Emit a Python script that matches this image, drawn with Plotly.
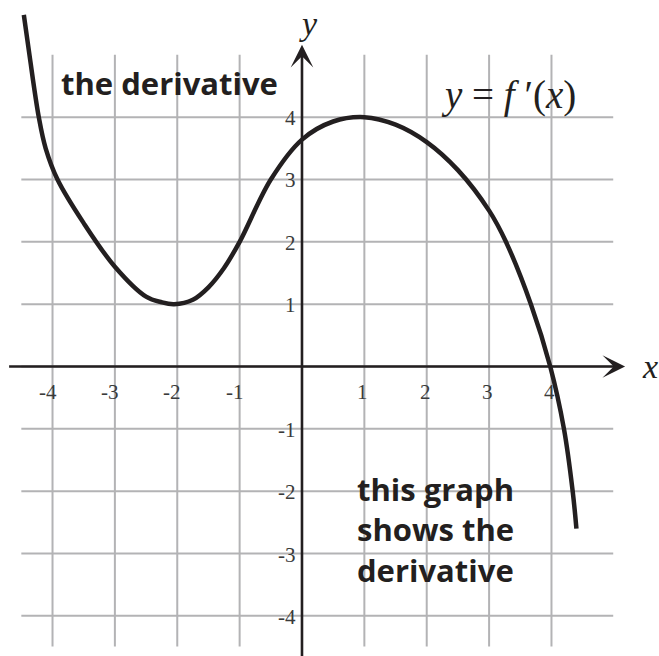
import plotly.graph_objects as go

# curve (data units)
curve_x = [-4.46, -4.37, -4.22, -4.11, -3.92, -3.5, -3.0, -2.5, -2.25, -2.05,
           -1.75, -1.5, -1.25, -1.0, -0.5, 0.0, 0.5, 1.0, 1.5, 2.0, 2.5, 3.0, 3.27,
           3.67, 3.98, 4.2, 4.34, 4.40]
curve_y = [5.64, 5.0, 4.0, 3.5, 3.0, 2.3, 1.6, 1.12, 1.03, 1.0,
           1.07, 1.27, 1.58, 2.0, 3.0, 3.64, 3.93, 4.0, 3.88, 3.6, 3.15, 2.5, 2.0,
           1.0, 0.0, -1.0, -2.0, -2.6]

x_ticks = [-4, -3, -2, -1, 1, 2, 3, 4]
y_ticks = [-4, -3, -2, -1, 1, 2, 3, 4]
grid_vals = [-4, -3, -2, -1, 0, 1, 2, 3, 4]

INK = "#231f20"
GRID = "#b3b3b5"
SERIF = "Liberation Serif"
BOLD = "Open Sans"

fig = go.Figure()

# grid as shapes, limited to the drawn square
shapes = []
for v in grid_vals:
    shapes.append(dict(type="line", x0=v, x1=v, y0=-4.49, y1=5.0,
                       line=dict(color=GRID, width=2), layer="below"))
    shapes.append(dict(type="line", x0=-4.5, x1=4.99, y0=v, y1=v,
                       line=dict(color=GRID, width=2), layer="below"))

fig.add_trace(go.Scatter(x=curve_x, y=curve_y, mode="lines",
                         line=dict(color=INK, width=4.5, shape="spline", smoothing=1),
                         hoverinfo="skip", showlegend=False))

ann = []
# axes with arrow heads
ann.append(dict(x=5.18, y=0, ax=-4.72, ay=0, xref="x", yref="y", axref="x", ayref="y",
                text="", showarrow=True, arrowhead=3, arrowsize=1.45, arrowwidth=2.6,
                arrowcolor=INK))
ann.append(dict(x=0, y=5.16, ax=0, ay=-4.8, xref="x", yref="y", axref="x", ayref="y",
                text="", showarrow=True, arrowhead=3, arrowsize=1.45, arrowwidth=2.6,
                arrowcolor=INK))

for t in x_ticks:
    ann.append(dict(x=t, y=-0.41, text=str(t), showarrow=False, xanchor="right",
                    yanchor="middle", xshift=6,
                    font=dict(family=SERIF, size=21, color="#3a3a3a")))
for t in y_ticks:
    ann.append(dict(x=0, y=t, text=str(t), showarrow=False, xanchor="right",
                    yanchor="middle", xshift=-4, yshift=-1,
                    font=dict(family=SERIF, size=21, color="#3a3a3a")))

ann.append(dict(x=0.1, y=5.5, text="<i>y</i>", showarrow=False,
                font=dict(family=SERIF, size=34, color=INK)))
ann.append(dict(x=5.58, y=0.0, text="<i>x</i>", showarrow=False,
                font=dict(family=SERIF, size=34, color=INK)))
ann.append(dict(x=2.19, y=4.36, text="<i>y</i> = <i>f</i> \u2032(<i>x</i>)",
                showarrow=False, xanchor="left", yanchor="middle",
                font=dict(family=SERIF, size=39, color=INK)))

ann.append(dict(x=-3.9, y=4.55, text="<b>the derivative</b>", showarrow=False,
                xanchor="left", yanchor="middle",
                font=dict(family=BOLD, size=31, color=INK)))
ann.append(dict(x=0.85, y=-2.62, text="<b>this graph<br>shows the<br>derivative</b>",
                showarrow=False, xanchor="left", yanchor="middle", align="left",
                font=dict(family=BOLD, size=31, color=INK)))

fig.update_layout(
    width=659, height=656,
    margin=dict(l=0, r=0, t=0, b=0),
    paper_bgcolor="white", plot_bgcolor="white",
    shapes=shapes, annotations=ann,
    xaxis=dict(range=[-4.842, 5.724], visible=False, fixedrange=True),
    yaxis=dict(range=[-4.644, 5.879], visible=False, fixedrange=True),
)

fig.write_html("out.html", config={"displayModeBar": False},
               post_script="document.body.style.margin='0';")
